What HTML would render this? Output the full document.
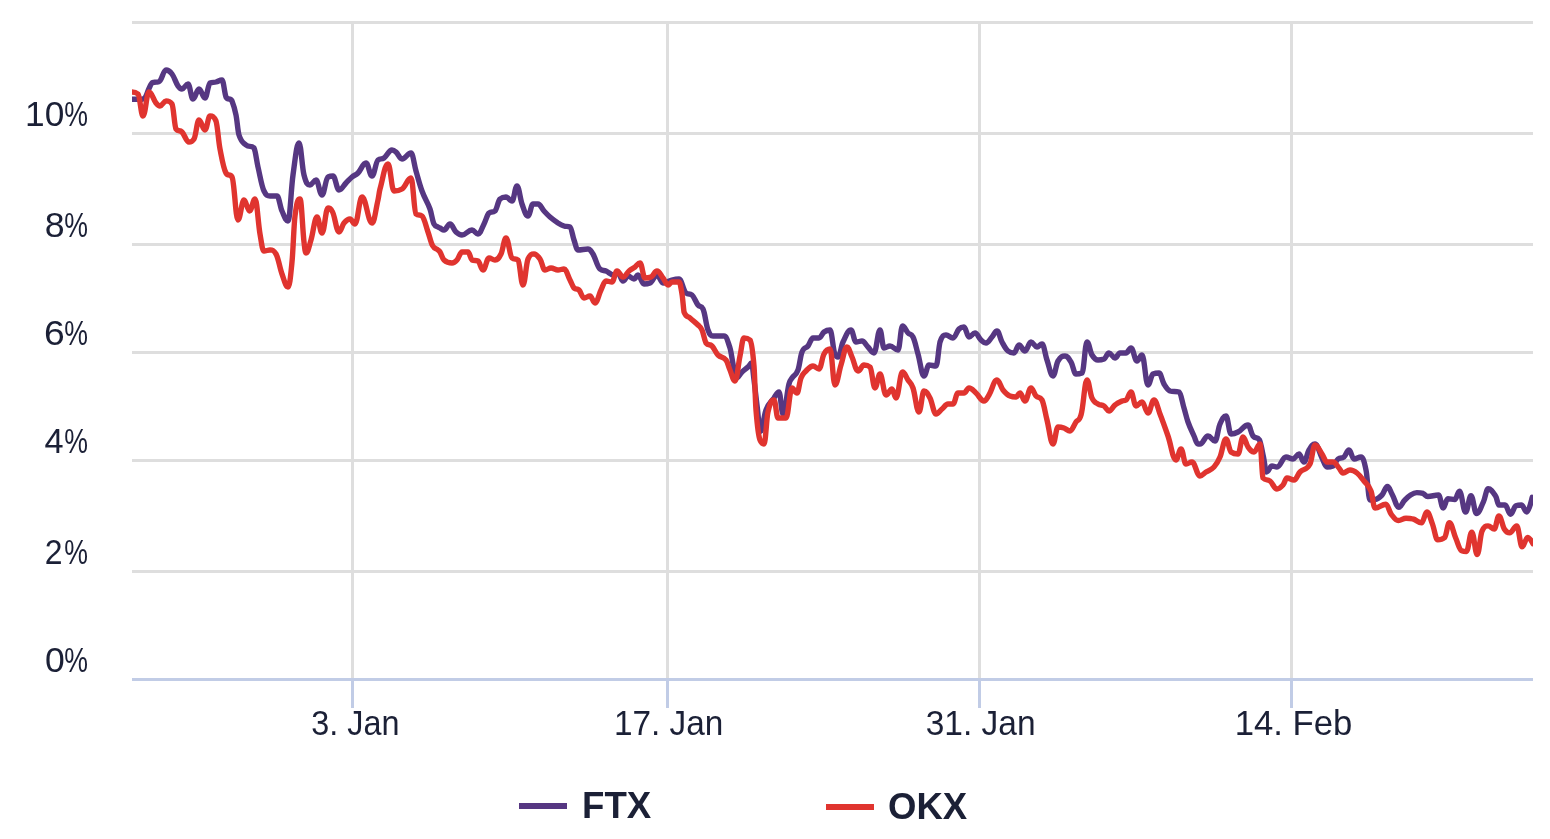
<!DOCTYPE html>
<html><head><meta charset="utf-8"><style>
html,body{margin:0;padding:0;background:#fff;}
body{width:1550px;height:839px;overflow:hidden;}
svg{display:block;}
text{font-family:"Liberation Sans",sans-serif;fill:#1b2036;}
.yl{font-size:35.5px;}
.xl{font-size:35.5px;}
.lg{font-size:37.5px;font-weight:bold;}
</style></head><body>
<svg width="1550" height="839" viewBox="0 0 1550 839">
<defs><clipPath id="plot"><rect x="132" y="0" width="1401" height="700"/></clipPath></defs>
<rect width="1550" height="839" fill="#fff"/>
<rect x="132" y="21" width="1401" height="3" fill="#dedede"/>
<rect x="132" y="132" width="1401" height="3" fill="#dedede"/>
<rect x="132" y="243" width="1401" height="3" fill="#dedede"/>
<rect x="132" y="351" width="1401" height="3" fill="#dedede"/>
<rect x="132" y="459" width="1401" height="3" fill="#dedede"/>
<rect x="132" y="570" width="1401" height="3" fill="#dedede"/>
<rect x="351" y="21" width="3" height="657" fill="#dedede"/>
<rect x="666" y="21" width="3" height="657" fill="#dedede"/>
<rect x="978" y="21" width="3" height="657" fill="#dedede"/>
<rect x="1290" y="21" width="3" height="657" fill="#dedede"/>
<rect x="132" y="678" width="1401" height="3" fill="#c1cce6"/>
<rect x="351" y="681" width="3" height="27" fill="#c1cce6"/>
<rect x="666" y="681" width="3" height="27" fill="#c1cce6"/>
<rect x="978" y="681" width="3" height="27" fill="#c1cce6"/>
<rect x="1290" y="681" width="3" height="27" fill="#c1cce6"/>
<g clip-path="url(#plot)" fill="none" stroke-linejoin="round" stroke-linecap="round" stroke-width="5.4">
<path d="M132.0 99.2 C132.0 99.2 135.0 99.3 137.0 99.3 C139.0 99.3 140.0 99.3 142.0 99.2 C143.4 99.1 144.1 99.1 145.5 97.0 C146.9 94.9 147.6 91.4 149.0 88.5 C150.4 85.6 151.1 83.0 152.5 82.6 C153.9 82.2 154.6 82.4 156.0 82.2 C157.2 82.0 157.8 82.2 159.0 81.6 C161.8 81.0 163.2 70.0 166.0 70.0 C168.4 70.0 169.6 70.8 172.0 74.0 C174.4 77.2 175.6 82.4 178.0 86.0 C179.6 88.4 180.4 89.0 182.0 89.0 C184.4 89.0 185.6 84.0 188.0 84.0 C190.0 84.0 191.0 99.0 193.0 99.0 C195.4 99.0 196.6 89.0 199.0 89.0 C201.4 89.0 202.6 98.0 205.0 98.0 C207.0 98.0 208.0 84.0 210.0 83.0 C212.4 82.0 213.6 82.6 216.0 82.0 C218.4 81.4 219.6 80.0 222.0 80.0 C223.6 80.0 224.4 93.0 226.0 97.0 C228.4 101.0 229.6 97.0 232.0 101.0 C233.6 105.0 234.4 107.2 236.0 115.0 C237.2 120.8 237.8 131.4 239.0 135.0 C241.8 143.4 243.2 142.6 246.0 145.0 C249.2 147.8 250.8 145.0 254.0 148.0 C255.6 151.0 256.4 160.1 258.0 167.0 C260.4 177.3 261.6 186.0 264.0 191.0 C266.4 196.0 267.6 196.0 270.0 196.0 C272.8 196.0 274.2 196.0 277.0 196.0 C279.0 196.0 280.0 206.5 282.0 211.0 C284.4 216.5 285.6 221.0 288.0 221.0 C290.0 221.0 291.0 189.2 293.0 175.0 C295.4 158.0 296.6 143.0 299.0 143.0 C301.0 143.0 302.0 167.4 304.0 175.0 C306.4 184.2 307.6 185.0 310.0 185.0 C312.4 185.0 313.6 180.0 316.0 180.0 C318.4 180.0 319.6 195.0 322.0 195.0 C324.4 195.0 325.6 178.0 328.0 177.0 C330.0 176.0 331.0 176.0 333.0 176.0 C335.4 176.0 336.6 190.0 339.0 190.0 C341.8 190.0 343.2 185.8 346.0 183.0 C348.4 180.6 349.6 179.0 352.0 177.0 C354.4 175.0 355.6 175.4 358.0 173.0 C361.2 169.8 362.8 163.0 366.0 163.0 C368.4 163.0 369.6 176.0 372.0 176.0 C374.4 176.0 375.6 162.0 378.0 160.0 C380.4 158.0 381.6 159.7 384.0 158.0 C387.2 155.7 388.8 150.0 392.0 150.0 C393.6 150.0 394.4 150.6 396.0 152.0 C398.4 154.2 399.6 159.0 402.0 159.0 C405.6 159.0 407.4 153.0 411.0 153.0 C413.0 153.0 414.0 164.1 416.0 171.0 C418.4 179.3 419.6 184.5 422.0 191.0 C425.2 199.7 426.8 200.2 430.0 209.0 C431.6 213.4 432.4 221.0 434.0 224.0 C435.6 227.0 436.4 225.9 438.0 227.0 C438.8 227.5 439.2 227.6 440.0 228.0 C441.6 228.8 442.4 230.0 444.0 230.0 C446.4 230.0 447.6 224.0 450.0 224.0 C452.4 224.0 453.6 229.8 456.0 232.0 C458.4 234.2 459.6 235.0 462.0 235.0 C466.0 235.0 468.0 230.0 472.0 230.0 C474.4 230.0 475.6 234.0 478.0 234.0 C480.4 234.0 481.6 228.6 484.0 224.0 C486.0 220.2 487.0 215.0 489.0 213.0 C491.4 211.0 492.6 213.0 495.0 211.0 C497.0 209.0 498.0 201.0 500.0 199.0 C502.4 197.0 503.6 197.0 506.0 197.0 C508.4 197.0 509.6 201.0 512.0 201.0 C514.0 201.0 515.0 186.0 517.0 186.0 C519.0 186.0 520.0 198.5 522.0 204.0 C524.4 210.5 525.6 216.0 528.0 216.0 C530.0 216.0 531.0 204.0 533.0 204.0 C535.0 204.0 536.0 204.0 538.0 204.0 C540.4 204.0 541.6 208.4 544.0 211.0 C546.4 213.6 547.6 214.9 550.0 217.0 C553.2 219.7 554.8 220.9 558.0 223.0 C560.4 224.5 561.6 225.2 564.0 226.0 C566.4 226.8 567.6 226.0 570.0 227.0 C571.6 228.0 572.4 235.4 574.0 240.0 C575.6 244.6 576.4 250.0 578.0 250.0 C582.0 250.0 584.0 249.0 588.0 249.0 C590.0 249.0 591.0 250.7 593.0 254.0 C595.8 258.7 597.2 267.0 600.0 269.0 C602.4 271.0 603.6 270.0 606.0 271.0 C609.2 272.4 610.8 275.0 614.0 275.0 C615.6 275.0 616.4 273.0 618.0 273.0 C620.0 273.0 621.0 281.0 623.0 281.0 C625.0 281.0 626.0 276.0 628.0 276.0 C630.4 276.0 631.6 279.0 634.0 279.0 C635.6 279.0 636.4 275.0 638.0 275.0 C640.4 275.0 641.6 284.0 644.0 284.0 C646.4 284.0 647.6 284.0 650.0 283.0 C652.8 282.0 654.2 275.0 657.0 275.0 C659.4 275.0 660.6 283.0 663.0 283.0 C665.4 283.0 666.6 281.6 669.0 281.0 C673.0 280.0 675.0 279.0 679.0 279.0 C681.8 279.0 683.2 291.0 686.0 293.0 C688.4 295.0 689.6 293.0 692.0 295.0 C694.4 297.0 695.6 301.9 698.0 305.0 C700.0 307.5 701.0 305.0 703.0 309.0 C705.0 313.0 706.0 324.6 708.0 330.0 C710.0 335.4 711.0 336.0 713.0 336.0 C717.4 336.0 719.6 336.0 724.0 336.0 C726.4 336.0 727.6 340.5 730.0 348.0 C731.2 351.7 731.8 358.0 733.0 364.0 C734.2 370.0 734.8 378.0 736.0 378.0 C738.4 378.0 739.6 374.2 742.0 372.0 C744.6 369.6 745.9 369.0 748.5 366.5 C749.7 365.4 750.3 363.0 751.5 363.0 C752.5 363.0 753.0 372.4 754.0 380.0 C755.2 389.2 755.8 395.5 757.0 405.0 C758.4 416.1 759.1 431.5 760.5 431.5 C762.7 431.5 763.8 415.5 766.0 410.0 C769.2 402.1 770.8 402.4 774.0 398.0 C776.0 395.2 777.0 392.0 779.0 392.0 C780.6 392.0 781.4 414.0 783.0 414.0 C785.4 414.0 786.6 393.6 789.0 384.0 C790.2 379.2 790.8 379.9 792.0 378.0 C794.4 374.3 795.6 376.2 798.0 370.0 C799.6 365.8 800.4 355.8 802.0 352.0 C804.4 346.2 805.6 349.1 808.0 346.0 C810.0 343.5 811.0 338.0 813.0 338.0 C815.4 338.0 816.6 338.0 819.0 338.0 C821.0 338.0 822.0 333.5 824.0 332.0 C826.4 330.3 827.6 330.0 830.0 330.0 C832.0 330.0 833.0 351.0 835.0 354.0 C836.2 357.0 836.8 357.0 838.0 357.0 C840.0 357.0 841.0 346.2 843.0 342.0 C846.2 335.4 847.8 330.0 851.0 330.0 C853.0 330.0 854.0 342.0 856.0 342.0 C858.4 342.0 859.6 341.0 862.0 341.0 C864.4 341.0 865.6 344.6 868.0 347.0 C870.4 349.4 871.6 353.0 874.0 353.0 C876.4 353.0 877.6 330.0 880.0 330.0 C881.6 330.0 882.4 348.0 884.0 348.0 C886.4 348.0 887.6 346.0 890.0 346.0 C893.2 346.0 894.8 350.0 898.0 350.0 C899.8 350.0 900.7 326.0 902.5 326.0 C904.7 326.0 905.8 330.7 908.0 333.0 C910.0 335.1 911.0 333.0 913.0 337.0 C915.0 341.0 916.0 346.9 918.0 354.0 C920.4 362.5 921.6 376.0 924.0 376.0 C926.0 376.0 927.0 365.0 929.0 365.0 C931.8 365.0 933.2 366.0 936.0 366.0 C937.6 366.0 938.4 349.0 940.0 342.0 C942.4 335.0 943.6 335.0 946.0 335.0 C948.8 335.0 950.2 338.0 953.0 338.0 C955.4 338.0 956.6 331.4 959.0 329.0 C961.0 327.0 962.0 327.0 964.0 327.0 C966.0 327.0 967.0 337.0 969.0 337.0 C971.4 337.0 972.6 333.0 975.0 333.0 C977.4 333.0 978.6 337.8 981.0 340.0 C983.0 341.8 984.0 343.0 986.0 343.0 C988.4 343.0 989.6 339.6 992.0 337.0 C994.0 334.8 995.0 331.0 997.0 331.0 C999.0 331.0 1000.0 338.4 1002.0 342.0 C1004.4 346.4 1005.6 349.0 1008.0 351.0 C1010.4 353.0 1011.6 353.0 1014.0 353.0 C1016.0 353.0 1017.0 345.0 1019.0 345.0 C1021.4 345.0 1022.6 351.0 1025.0 351.0 C1027.4 351.0 1028.6 342.0 1031.0 342.0 C1033.4 342.0 1034.6 347.0 1037.0 347.0 C1039.0 347.0 1040.0 344.0 1042.0 344.0 C1044.0 344.0 1045.0 354.2 1047.0 360.0 C1049.4 367.0 1050.6 376.0 1053.0 376.0 C1055.0 376.0 1056.0 364.3 1058.0 361.0 C1060.8 356.3 1062.2 356.0 1065.0 356.0 C1067.4 356.0 1068.6 358.1 1071.0 362.0 C1073.0 365.3 1074.0 374.0 1076.0 374.0 C1078.4 374.0 1079.6 374.0 1082.0 373.0 C1084.0 372.0 1085.0 342.0 1087.0 342.0 C1089.0 342.0 1090.0 351.7 1092.0 355.0 C1094.4 358.9 1095.6 360.0 1098.0 360.0 C1100.4 360.0 1101.6 360.0 1104.0 359.0 C1106.0 358.0 1107.0 353.0 1109.0 353.0 C1111.4 353.0 1112.6 358.0 1115.0 358.0 C1117.0 358.0 1118.0 353.0 1120.0 353.0 C1122.4 353.0 1123.6 353.0 1126.0 353.0 C1128.0 353.0 1129.0 348.0 1131.0 348.0 C1133.4 348.0 1134.6 361.0 1137.0 361.0 C1139.0 361.0 1140.0 355.0 1142.0 355.0 C1144.4 355.0 1145.6 385.0 1148.0 385.0 C1150.0 385.0 1151.0 375.0 1153.0 374.0 C1155.4 373.0 1156.6 373.0 1159.0 373.0 C1161.0 373.0 1162.0 380.7 1164.0 384.0 C1166.4 387.9 1167.6 390.0 1170.0 391.0 C1173.6 392.0 1175.4 391.0 1179.0 392.0 C1181.0 393.0 1182.0 401.3 1184.0 408.0 C1185.6 413.3 1186.4 417.5 1188.0 422.0 C1190.4 428.7 1191.6 430.7 1194.0 436.0 C1195.6 439.5 1196.4 444.0 1198.0 444.0 C1198.8 444.0 1199.2 444.0 1200.0 444.0 C1203.2 444.0 1204.8 436.0 1208.0 436.0 C1210.8 436.0 1212.2 441.0 1215.0 441.0 C1217.0 441.0 1218.0 428.5 1220.0 424.0 C1222.4 418.5 1223.6 416.0 1226.0 416.0 C1228.0 416.0 1229.0 434.0 1231.0 434.0 C1233.8 434.0 1235.2 433.5 1238.0 432.0 C1242.0 429.9 1244.0 425.0 1248.0 425.0 C1250.0 425.0 1251.0 433.4 1253.0 436.0 C1255.6 439.4 1256.9 436.0 1259.5 440.0 C1261.1 444.0 1261.9 449.7 1263.5 457.0 C1264.7 462.5 1265.3 472.0 1266.5 472.0 C1268.7 472.0 1269.8 466.0 1272.0 466.0 C1274.0 466.0 1275.0 467.0 1277.0 467.0 C1280.6 467.0 1282.4 457.0 1286.0 457.0 C1288.8 457.0 1290.2 459.0 1293.0 459.0 C1295.4 459.0 1296.6 454.0 1299.0 454.0 C1301.0 454.0 1302.0 462.0 1304.0 462.0 C1306.0 462.0 1307.0 453.3 1309.0 450.0 C1311.4 446.1 1312.6 444.0 1315.0 444.0 C1317.8 444.0 1319.2 452.6 1322.0 458.0 C1324.0 461.8 1325.0 467.0 1327.0 467.0 C1329.4 467.0 1330.6 467.0 1333.0 466.0 C1335.0 465.0 1336.0 460.6 1338.0 459.0 C1340.4 457.0 1341.6 459.0 1344.0 457.0 C1346.0 455.4 1347.0 450.0 1349.0 450.0 C1351.0 450.0 1352.0 459.0 1354.0 459.0 C1356.8 459.0 1358.2 457.0 1361.0 457.0 C1363.0 457.0 1364.0 460.4 1366.0 470.0 C1367.6 477.6 1368.4 500.0 1370.0 500.0 C1372.0 500.0 1373.0 500.0 1375.0 499.6 C1377.8 499.2 1379.2 497.9 1382.0 495.0 C1384.2 492.7 1385.3 486.5 1387.4 486.5 C1389.3 486.5 1390.2 490.8 1392.1 494.2 C1394.9 499.2 1396.2 507.4 1399.0 507.4 C1401.2 507.4 1402.3 502.7 1404.5 500.4 C1406.9 497.7 1408.2 496.5 1410.6 495.0 C1413.1 493.4 1414.4 492.6 1416.8 492.6 C1419.3 492.6 1420.6 492.6 1423.0 493.4 C1424.9 494.2 1425.8 496.5 1427.7 496.5 C1432.0 496.5 1434.2 495.0 1438.5 495.0 C1440.4 495.0 1441.3 508.1 1443.2 508.1 C1445.0 508.1 1445.9 498.8 1447.8 498.8 C1450.6 498.8 1452.0 499.6 1454.8 499.6 C1456.6 499.6 1457.6 491.1 1459.4 491.1 C1461.9 491.1 1463.1 512.0 1465.6 512.0 C1467.8 512.0 1468.9 495.7 1471.0 495.7 C1473.2 495.7 1474.3 513.5 1476.5 513.5 C1479.2 513.5 1480.6 507.9 1483.4 501.9 C1485.3 498.0 1486.2 488.8 1488.1 488.8 C1491.2 488.8 1492.7 491.9 1495.8 496.5 C1497.0 498.4 1497.7 505.0 1498.9 505.0 C1501.4 505.0 1502.6 505.0 1505.1 505.0 C1507.3 505.0 1508.3 514.3 1510.5 514.3 C1512.7 514.3 1513.8 506.6 1515.9 505.8 C1518.1 505.0 1519.2 505.0 1521.4 505.0 C1523.5 505.0 1524.6 512.0 1526.8 512.0 C1528.9 512.0 1532.2 497.3 1532.2 497.3" stroke="#563782"/>
<path d="M132.0 92.0 C132.0 92.0 135.6 92.0 138.0 94.0 C140.0 96.0 141.0 116.0 143.0 116.0 C145.4 116.0 146.6 92.0 149.0 92.0 C151.8 92.0 153.2 99.4 156.0 103.0 C157.6 105.0 158.4 106.0 160.0 106.0 C162.4 106.0 163.6 101.0 166.0 101.0 C168.4 101.0 169.6 101.0 172.0 104.0 C173.6 107.0 174.4 126.0 176.0 129.0 C178.4 132.0 179.6 129.6 182.0 132.0 C184.8 134.8 186.2 142.0 189.0 142.0 C191.0 142.0 192.0 142.0 194.0 139.0 C196.0 136.0 197.0 120.0 199.0 120.0 C201.4 120.0 202.6 130.0 205.0 130.0 C207.0 130.0 208.0 116.0 210.0 116.0 C212.4 116.0 213.6 116.0 216.0 121.0 C217.6 126.0 218.4 140.7 220.0 149.0 C222.4 161.5 223.6 169.0 226.0 173.0 C228.4 177.0 229.6 173.0 232.0 177.0 C234.4 181.0 235.6 220.0 238.0 220.0 C240.4 220.0 241.6 200.0 244.0 200.0 C246.2 200.0 247.4 211.0 249.6 211.0 C251.8 211.0 252.8 199.0 255.0 199.0 C257.0 199.0 258.0 222.4 260.0 234.0 C261.6 243.2 262.4 251.0 264.0 251.0 C266.4 251.0 267.6 250.0 270.0 250.0 C272.4 250.0 273.6 250.0 276.0 254.0 C278.4 258.0 279.6 267.4 282.0 274.0 C284.4 280.6 285.6 287.0 288.0 287.0 C289.6 287.0 290.4 278.2 292.0 262.0 C293.2 249.8 293.8 225.4 295.0 216.0 C297.0 200.2 298.0 199.0 300.0 199.0 C301.6 199.0 302.4 227.6 304.0 242.0 C304.8 249.2 305.2 253.0 306.0 253.0 C308.0 253.0 309.0 246.5 311.0 240.0 C313.4 232.1 314.6 217.0 317.0 217.0 C319.0 217.0 320.0 233.0 322.0 233.0 C324.4 233.0 325.6 208.0 328.0 208.0 C329.6 208.0 330.4 208.0 332.0 211.0 C334.8 214.0 336.2 232.0 339.0 232.0 C341.0 232.0 342.0 225.4 344.0 223.0 C346.4 220.2 347.6 219.0 350.0 219.0 C352.0 219.0 353.0 224.0 355.0 224.0 C357.8 224.0 359.2 197.0 362.0 197.0 C366.0 197.0 368.0 223.0 372.0 223.0 C374.4 223.0 375.6 210.2 378.0 200.0 C378.8 196.6 379.2 191.9 380.0 189.0 C383.2 177.5 384.8 164.0 388.0 164.0 C390.4 164.0 391.6 191.0 394.0 191.0 C397.2 191.0 398.8 191.0 402.0 189.0 C405.6 187.0 407.4 178.0 411.0 178.0 C413.0 178.0 414.0 212.0 416.0 214.0 C418.4 216.0 419.6 214.0 422.0 216.0 C424.4 218.0 425.6 225.3 428.0 232.0 C429.8 237.1 430.7 242.3 432.5 245.5 C434.7 249.5 435.8 248.1 438.0 250.0 C438.8 250.7 439.2 250.7 440.0 252.0 C441.6 254.7 442.4 258.5 444.0 260.0 C447.2 262.9 448.8 263.0 452.0 263.0 C454.0 263.0 455.0 262.2 457.0 260.0 C459.0 257.8 460.0 252.0 462.0 252.0 C464.4 252.0 465.6 252.0 468.0 252.0 C469.6 252.0 470.4 259.0 472.0 260.0 C474.4 261.0 475.6 260.0 478.0 261.0 C480.0 262.0 481.0 270.0 483.0 270.0 C485.4 270.0 486.6 258.0 489.0 258.0 C491.4 258.0 492.6 260.0 495.0 260.0 C497.4 260.0 498.6 258.8 501.0 254.0 C503.0 250.0 504.0 238.0 506.0 238.0 C508.4 238.0 509.6 256.0 512.0 258.0 C514.4 260.0 515.6 258.0 518.0 260.0 C520.0 262.0 521.0 285.0 523.0 285.0 C525.0 285.0 526.0 264.0 528.0 259.0 C530.4 254.0 531.6 254.0 534.0 254.0 C536.4 254.0 537.6 255.5 540.0 259.0 C542.0 261.9 543.0 270.0 545.0 270.0 C547.4 270.0 548.6 268.0 551.0 268.0 C553.8 268.0 555.2 270.0 558.0 270.0 C560.4 270.0 561.6 269.0 564.0 269.0 C566.4 269.0 567.6 275.4 570.0 280.0 C571.6 283.0 572.4 286.0 574.0 288.0 C576.0 290.0 577.0 288.0 579.0 290.0 C581.0 292.0 582.0 298.0 584.0 298.0 C586.4 298.0 587.6 296.0 590.0 296.0 C592.0 296.0 593.0 303.0 595.0 303.0 C597.4 303.0 598.6 294.8 601.0 290.0 C603.0 286.0 604.0 281.0 606.0 281.0 C608.4 281.0 609.6 282.0 612.0 282.0 C614.0 282.0 615.0 271.0 617.0 271.0 C619.4 271.0 620.6 277.0 623.0 277.0 C625.4 277.0 626.6 273.0 629.0 271.0 C631.4 269.0 632.6 268.7 635.0 267.0 C637.0 265.5 638.0 263.0 640.0 263.0 C642.0 263.0 643.0 278.0 645.0 278.0 C647.4 278.0 648.6 278.0 651.0 277.0 C653.4 276.0 654.6 271.0 657.0 271.0 C659.4 271.0 660.6 274.9 663.0 278.0 C665.0 280.5 666.0 285.0 668.0 285.0 C669.6 285.0 670.4 282.0 672.0 282.0 C674.8 282.0 676.2 282.0 679.0 282.0 C680.2 282.0 680.8 286.8 682.0 294.0 C682.8 298.8 683.2 306.0 684.0 312.0 C686.4 318.0 687.6 315.8 690.0 318.0 C693.2 321.0 694.8 321.8 698.0 325.0 C699.6 326.6 700.4 326.4 702.0 330.0 C703.6 333.6 704.4 340.0 706.0 343.0 C708.4 346.0 709.6 343.6 712.0 346.0 C714.4 348.4 715.6 352.6 718.0 355.0 C721.2 358.2 722.8 356.0 726.0 360.0 C727.6 362.0 728.4 366.3 730.0 370.0 C732.0 374.7 733.0 381.0 735.0 381.0 C737.0 381.0 738.0 365.6 740.0 356.0 C741.6 348.4 742.4 338.0 744.0 338.0 C746.4 338.0 747.6 338.0 750.0 340.0 C751.6 342.0 752.4 347.3 754.0 366.0 C754.8 375.3 755.2 400.1 756.0 410.0 C757.6 429.7 758.4 436.0 760.0 440.0 C761.6 444.0 762.4 444.0 764.0 444.0 C765.6 444.0 766.4 419.0 768.0 412.0 C770.4 401.4 771.6 400.0 774.0 400.0 C775.6 400.0 776.4 418.0 778.0 418.0 C781.2 418.0 782.8 418.0 786.0 418.0 C788.4 418.0 789.6 388.0 792.0 388.0 C794.0 388.0 795.0 393.0 797.0 393.0 C798.6 393.0 799.4 381.9 801.0 378.0 C803.0 373.1 804.0 373.0 806.0 371.0 C808.8 368.2 810.2 366.0 813.0 366.0 C815.4 366.0 816.6 369.0 819.0 369.0 C821.0 369.0 822.0 357.6 824.0 354.0 C826.4 349.6 827.6 349.0 830.0 349.0 C832.0 349.0 833.0 385.0 835.0 385.0 C837.4 385.0 838.6 372.6 841.0 365.0 C843.4 357.4 844.6 347.0 847.0 347.0 C849.0 347.0 850.0 352.6 852.0 357.0 C854.4 362.2 855.6 371.0 858.0 371.0 C860.4 371.0 861.6 365.0 864.0 365.0 C866.4 365.0 867.6 365.0 870.0 367.0 C872.0 369.0 873.0 388.0 875.0 388.0 C877.0 388.0 878.0 374.0 880.0 374.0 C882.4 374.0 883.6 395.0 886.0 395.0 C888.4 395.0 889.6 389.0 892.0 389.0 C893.6 389.0 894.4 398.0 896.0 398.0 C898.6 398.0 899.9 372.0 902.5 372.0 C904.7 372.0 905.8 376.6 908.0 380.0 C910.0 383.0 911.0 382.2 913.0 388.0 C915.4 395.0 916.6 412.0 919.0 412.0 C921.0 412.0 922.0 391.0 924.0 391.0 C926.4 391.0 927.6 393.4 930.0 398.0 C932.4 402.6 933.6 414.0 936.0 414.0 C938.4 414.0 939.6 411.0 942.0 409.0 C944.4 407.0 945.6 404.0 948.0 404.0 C950.0 404.0 951.0 404.0 953.0 404.0 C955.0 404.0 956.0 393.0 958.0 393.0 C960.4 393.0 961.6 393.0 964.0 393.0 C966.0 393.0 967.0 388.0 969.0 388.0 C971.8 388.0 973.2 390.6 976.0 393.0 C979.2 395.8 980.8 401.0 984.0 401.0 C986.0 401.0 987.0 398.2 989.0 395.0 C992.2 389.8 993.8 380.0 997.0 380.0 C999.4 380.0 1000.6 387.0 1003.0 390.0 C1005.8 393.4 1007.2 395.0 1010.0 396.0 C1012.4 397.0 1013.6 397.0 1016.0 397.0 C1017.6 397.0 1018.4 393.0 1020.0 393.0 C1022.0 393.0 1023.0 401.0 1025.0 401.0 C1027.4 401.0 1028.6 388.0 1031.0 388.0 C1033.0 388.0 1034.0 393.8 1036.0 396.0 C1038.4 398.6 1039.6 396.0 1042.0 400.0 C1044.0 404.0 1045.0 412.0 1047.0 420.0 C1049.4 429.6 1050.6 444.0 1053.0 444.0 C1055.0 444.0 1056.0 427.0 1058.0 427.0 C1060.4 427.0 1061.6 427.2 1064.0 428.0 C1066.4 428.8 1067.6 431.0 1070.0 431.0 C1072.4 431.0 1073.6 425.5 1076.0 422.0 C1078.0 419.1 1079.0 422.0 1081.0 415.0 C1083.4 408.0 1084.6 380.0 1087.0 380.0 C1089.0 380.0 1090.0 393.6 1092.0 398.0 C1094.4 403.2 1095.6 402.4 1098.0 404.0 C1100.4 405.6 1101.6 404.5 1104.0 406.0 C1106.0 407.3 1107.0 411.0 1109.0 411.0 C1111.4 411.0 1112.6 406.8 1115.0 405.0 C1117.8 402.8 1119.2 402.3 1122.0 401.0 C1123.6 400.3 1124.4 401.0 1126.0 400.0 C1128.0 399.0 1129.0 392.0 1131.0 392.0 C1133.0 392.0 1134.0 406.0 1136.0 406.0 C1138.4 406.0 1139.6 402.0 1142.0 402.0 C1144.4 402.0 1145.6 413.0 1148.0 413.0 C1150.4 413.0 1151.6 400.0 1154.0 400.0 C1156.4 400.0 1157.6 407.8 1160.0 414.0 C1163.2 422.2 1164.8 426.8 1168.0 436.0 C1171.2 445.2 1172.8 460.0 1176.0 460.0 C1178.0 460.0 1179.0 449.0 1181.0 449.0 C1183.0 449.0 1184.0 464.0 1186.0 464.0 C1188.4 464.0 1189.6 462.0 1192.0 462.0 C1195.2 462.0 1196.8 476.0 1200.0 476.0 C1202.4 476.0 1203.6 473.5 1206.0 472.0 C1209.2 469.9 1210.8 470.4 1214.0 467.0 C1216.4 464.4 1217.6 462.6 1220.0 457.0 C1222.4 451.4 1223.6 439.0 1226.0 439.0 C1228.0 439.0 1229.0 450.0 1231.0 452.0 C1233.8 454.0 1235.2 454.0 1238.0 454.0 C1240.0 454.0 1241.0 437.0 1243.0 437.0 C1245.0 437.0 1246.0 444.3 1248.0 447.0 C1250.4 450.3 1251.6 452.0 1254.0 452.0 C1256.4 452.0 1257.6 444.0 1260.0 444.0 C1261.2 444.0 1261.8 475.0 1263.0 478.0 C1265.8 481.0 1267.2 478.8 1270.0 481.0 C1272.8 483.2 1274.2 489.0 1277.0 489.0 C1279.4 489.0 1280.6 487.6 1283.0 485.0 C1284.6 483.2 1285.4 478.0 1287.0 478.0 C1289.8 478.0 1291.2 480.0 1294.0 480.0 C1296.4 480.0 1297.6 474.4 1300.0 472.0 C1304.0 468.0 1306.0 471.2 1310.0 464.0 C1312.0 460.4 1313.0 445.0 1315.0 445.0 C1317.8 445.0 1319.2 450.0 1322.0 454.0 C1324.0 456.8 1325.0 462.0 1327.0 462.0 C1329.4 462.0 1330.6 462.0 1333.0 462.0 C1335.4 462.0 1336.6 465.4 1339.0 468.0 C1340.6 469.8 1341.4 473.0 1343.0 473.0 C1345.8 473.0 1347.2 470.0 1350.0 470.0 C1352.8 470.0 1354.2 470.8 1357.0 473.0 C1359.8 475.2 1361.2 477.4 1364.0 481.0 C1366.8 484.6 1368.2 484.1 1371.0 491.0 C1372.6 495.0 1373.4 508.1 1375.0 508.1 C1379.4 508.1 1381.5 504.3 1385.9 504.3 C1388.0 504.3 1389.1 511.5 1391.3 514.3 C1394.1 518.0 1395.5 520.5 1398.3 520.5 C1401.4 520.5 1402.9 518.2 1406.0 518.2 C1408.8 518.2 1410.2 518.2 1413.0 519.0 C1416.4 519.7 1418.1 522.8 1421.5 522.8 C1423.7 522.8 1424.7 512.0 1426.9 512.0 C1429.1 512.0 1430.2 518.0 1432.3 523.6 C1434.5 529.2 1435.6 539.9 1437.7 539.9 C1440.5 539.9 1441.9 539.9 1444.7 537.5 C1446.6 535.2 1447.5 522.8 1449.4 522.8 C1451.8 522.8 1453.1 532.0 1455.5 537.5 C1458.0 543.1 1459.3 549.9 1461.7 550.7 C1463.6 551.5 1464.5 551.5 1466.4 551.5 C1468.6 551.5 1469.6 532.1 1471.8 532.1 C1474.0 532.1 1475.1 554.6 1477.2 554.6 C1479.1 554.6 1480.0 536.8 1481.9 531.4 C1484.3 525.9 1485.6 525.9 1488.1 525.9 C1490.5 525.9 1491.8 529.0 1494.3 529.0 C1496.1 529.0 1497.0 515.9 1498.9 515.9 C1501.1 515.9 1502.2 525.6 1504.3 529.0 C1506.5 532.4 1507.6 532.9 1509.7 532.9 C1512.5 532.9 1513.9 525.9 1516.7 525.9 C1518.9 525.9 1520.0 546.8 1522.1 546.8 C1524.3 546.8 1525.4 537.5 1527.5 537.5 C1529.7 537.5 1533.0 543.7 1533.0 543.7" stroke="#e0342f"/>
</g>
<g style="will-change:transform">
<text transform="translate(25.02 126.00) scale(0.9943 1)" class="yl">10</text>
<text transform="translate(64.25 126.00) scale(0.7517 1)" class="yl">%</text>
<text transform="translate(44.79 237.00) scale(1.0063 1)" class="yl">8</text>
<text transform="translate(64.25 237.00) scale(0.7517 1)" class="yl">%</text>
<text transform="translate(43.90 345.00) scale(1.0500 1)" class="yl">6</text>
<text transform="translate(64.25 345.00) scale(0.7517 1)" class="yl">%</text>
<text transform="translate(44.43 453.00) scale(0.9667 1)" class="yl">4</text>
<text transform="translate(64.25 453.00) scale(0.7517 1)" class="yl">%</text>
<text transform="translate(44.80 564.00) scale(0.9000 1)" class="yl">2</text>
<text transform="translate(64.25 564.00) scale(0.7517 1)" class="yl">%</text>
<text transform="translate(44.90 672.00) scale(1.0000 1)" class="yl">0</text>
<text transform="translate(64.25 672.00) scale(0.7517 1)" class="yl">%</text>
<text transform="translate(311.28 735.00) scale(0.9118 1)" class="xl">3. Jan</text>
<text transform="translate(613.88 735.00) scale(0.9396 1)" class="xl">17. Jan</text>
<text transform="translate(925.71 735.00) scale(0.9437 1)" class="xl">31. Jan</text>
<text transform="translate(1234.67 735.00) scale(0.9776 1)" class="xl">14. Feb</text>
<rect x="519" y="803" width="48" height="6" fill="#563782"/>
<text transform="translate(582.07 818.00) scale(0.9776 1)" class="lg">FTX</text>
<rect x="826" y="804" width="48" height="6" fill="#e0342f"/>
<text transform="translate(888.05 818.50) scale(0.9747 1)" class="lg">OKX</text>
</g>
</svg>
</body></html>
